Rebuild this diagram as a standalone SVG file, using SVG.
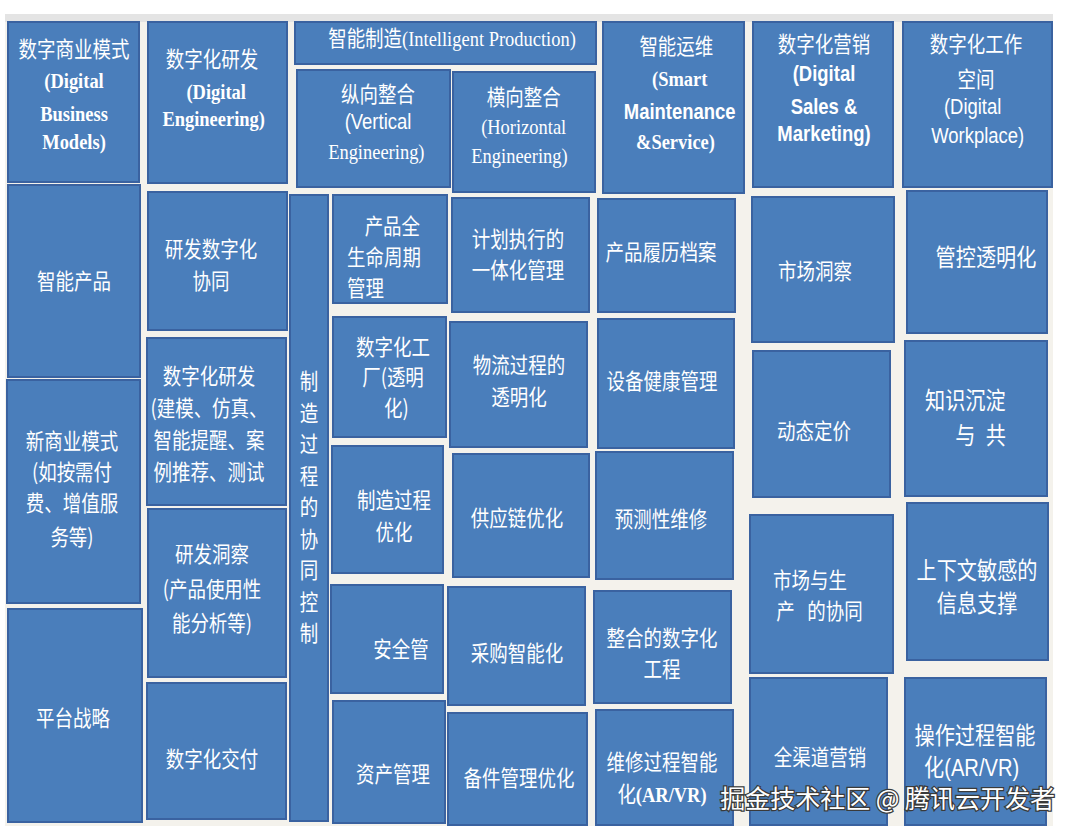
<svg xmlns="http://www.w3.org/2000/svg" width="1080" height="836" viewBox="0 0 1080 836">
<style>
.b{fill:#4a7ebb;stroke:#3a62a0;stroke-width:2}
.t{font-family:"Noto Sans CJK SC","Liberation Sans",sans-serif;font-size:22px;fill:#fff;text-anchor:middle}
.L{font-size:24px}
.st{text-anchor:start}
.s{font-family:"Liberation Serif","Noto Sans CJK SC",serif}
.sb{font-family:"Liberation Serif","Noto Sans CJK SC",serif;font-weight:bold}
.a{font-family:"Liberation Sans","Noto Sans CJK SC",sans-serif}
.ab{font-family:"Liberation Sans","Noto Sans CJK SC",sans-serif;font-weight:bold}
.wm{font-family:"Noto Sans CJK SC","Liberation Sans",sans-serif;font-size:25px;fill:#fff;stroke:#3a3a3a;stroke-width:2.5;paint-order:stroke;text-anchor:end}
</style>
<rect x="0" y="0" width="1080" height="836" fill="#ffffff"/>
<rect x="5" y="14" width="1048" height="812" fill="#f4f2ec"/>
<rect x="5" y="14" width="1048" height="8" fill="#e4e4e4"/>

<g id="b1"><rect class="b" x="8" y="22" width="131" height="160"/>
<text class="t" transform="translate(74 0) scale(.84 1)"><tspan x="0" y="57">数字商业模式</tspan><tspan class="sb" x="0" y="88">(Digital</tspan><tspan class="sb" x="0" y="121">Business</tspan><tspan class="sb" x="0" y="149">Models)</tspan></text></g>

<g id="b2"><rect class="b" x="148" y="22" width="139" height="161"/>
<text class="t" transform="translate(212 0) scale(.84 1)"><tspan x="0" y="67">数字化研发</tspan><tspan class="sb" x="5" y="99">(Digital</tspan><tspan class="sb" x="2" y="126">Engineering)</tspan></text></g>

<g id="b3"><rect class="b" x="295" y="22" width="301" height="42"/>
<text class="t s" transform="translate(452 0) scale(.84 1)"><tspan x="0" y="46">智能制造(Intelligent Production)</tspan></text></g>

<g id="b4"><rect class="b" x="297" y="70" width="153" height="117"/>
<text class="t" transform="translate(378 0) scale(.84 1)"><tspan x="0" y="102">纵向整合</tspan><tspan class="a" x="0" y="129">(Vertical</tspan><tspan class="s" x="-2" y="159">Engineering)</tspan></text></g>

<g id="b5"><rect class="b" x="453" y="72" width="142" height="120"/>
<text class="t s" transform="translate(522 0) scale(.84 1)"><tspan x="2" y="105">横向整合</tspan><tspan x="2" y="134">(Horizontal</tspan><tspan x="-3" y="163">Engineering)</tspan></text></g>

<g id="b6"><rect class="b" x="603" y="22" width="141" height="171"/>
<text class="t" transform="translate(678 0) scale(.84 1)"><tspan x="-2" y="54">智能运维</tspan><tspan class="sb" x="2" y="86">(Smart</tspan><tspan class="ab" x="2" y="119">Maintenance</tspan><tspan class="sb" x="-3" y="149">&amp;Service)</tspan></text></g>

<g id="b7"><rect class="b" x="753" y="22" width="140" height="165"/>
<text class="t" transform="translate(824 0) scale(.84 1)"><tspan x="0" y="52">数字化营销</tspan><tspan class="ab" x="0" y="81">(Digital</tspan><tspan class="ab" x="0" y="114">Sales &amp;</tspan><tspan class="ab" x="0" y="141">Marketing)</tspan></text></g>

<g id="b8"><rect class="b" x="903" y="22" width="149" height="165"/>
<text class="t" transform="translate(976 0) scale(.84 1)"><tspan x="0" y="52">数字化工作</tspan><tspan x="0" y="87">空间</tspan><tspan class="a" x="-4" y="114">(Digital</tspan><tspan class="a" x="2" y="143">Workplace)</tspan></text></g>

<g id="b9"><rect class="b" x="8" y="185" width="132" height="192"/>
<text class="t" transform="translate(74 0) scale(.84 1)"><tspan x="0" y="289">智能产品</tspan></text></g>

<g id="b10"><rect class="b" x="148" y="192" width="139" height="138"/>
<text class="t" transform="translate(211 0) scale(.84 1)"><tspan x="0" y="257">研发数字化</tspan><tspan x="0" y="289">协同</tspan></text></g>

<g id="b11"><rect class="b" x="7" y="380" width="133" height="223"/>
<text class="t" transform="translate(72 0) scale(.84 1)"><tspan x="0" y="449">新商业模式</tspan><tspan x="0" y="480">(如按需付</tspan><tspan x="0" y="511">费、增值服</tspan><tspan x="0" y="545">务等)</tspan></text></g>

<g id="b12"><rect class="b" x="8" y="609" width="134" height="213"/>
<text class="t" transform="translate(73 0) scale(.84 1)"><tspan x="0" y="726">平台战略</tspan></text></g>

<g id="b13"><rect class="b" x="147" y="338" width="139" height="167"/>
<text class="t" transform="translate(209 0) scale(.84 1)"><tspan x="0" y="384">数字化研发</tspan><tspan x="0" y="416">(建模、仿真、</tspan><tspan x="0" y="448">智能提醒、案</tspan><tspan x="0" y="480">例推荐、测试</tspan></text></g>

<g id="b14"><rect class="b" x="148" y="509" width="138" height="168"/>
<text class="t" transform="translate(212 0) scale(.84 1)"><tspan x="0" y="562">研发洞察</tspan><tspan x="0" y="597">(产品使用性</tspan><tspan x="0" y="631">能分析等)</tspan></text></g>

<g id="b15"><rect class="b" x="147" y="683" width="139" height="136"/>
<text class="t" transform="translate(212 0) scale(.84 1)"><tspan x="0" y="767">数字化交付</tspan></text></g>

<g id="b16"><rect class="b" x="290" y="195" width="38" height="626"/>
<text class="t" transform="translate(309 0) scale(.84 1)"><tspan x="0" y="389">制</tspan><tspan x="0" y="421">造</tspan><tspan x="0" y="452">过</tspan><tspan x="0" y="484">程</tspan><tspan x="0" y="515">的</tspan><tspan x="0" y="547">协</tspan><tspan x="0" y="578">同</tspan><tspan x="0" y="610">控</tspan><tspan x="0" y="641">制</tspan></text></g>

<g id="b17"><rect class="b" x="333" y="195" width="114" height="108"/>
<text class="t st" transform="translate(347 0) scale(.84 1)"><tspan x="21" y="234">产品全</tspan><tspan x="0" y="265">生命周期</tspan><tspan x="0" y="296">管理</tspan></text></g>

<g id="b18"><rect class="b" x="452" y="198" width="137" height="114"/>
<text class="t" transform="translate(518 0) scale(.84 1)"><tspan x="0" y="247">计划执行的</tspan><tspan x="0" y="278">一体化管理</tspan></text></g>

<g id="b19"><rect class="b" x="598" y="199" width="137" height="113"/>
<text class="t" transform="translate(661 0) scale(.84 1)"><tspan x="0" y="260">产品履历档案</tspan></text></g>

<g id="b20"><rect class="b" x="752" y="197" width="142" height="145"/>
<text class="t" transform="translate(815 0) scale(.84 1)"><tspan x="0" y="279">市场洞察</tspan></text></g>

<g id="b21"><rect class="b" x="907" y="191" width="140" height="142"/>
<text class="t L" transform="translate(986 0) scale(.84 1)"><tspan x="0" y="266">管控透明化</tspan></text></g>

<g id="b22"><rect class="b" x="333" y="317" width="113" height="120"/>
<text class="t" transform="translate(393 0) scale(.84 1)"><tspan x="0" y="355">数字化工</tspan><tspan x="0" y="385">厂(透明</tspan><tspan x="4" y="416">化)</tspan></text></g>

<g id="b23"><rect class="b" x="450" y="322" width="137" height="125"/>
<text class="t" transform="translate(519 0) scale(.84 1)"><tspan x="0" y="373">物流过程的</tspan><tspan x="0" y="405">透明化</tspan></text></g>

<g id="b24"><rect class="b" x="598" y="319" width="136" height="129"/>
<text class="t" transform="translate(662 0) scale(.84 1)"><tspan x="0" y="389">设备健康管理</tspan></text></g>

<g id="b25"><rect class="b" x="753" y="351" width="137" height="146"/>
<text class="t" transform="translate(814 0) scale(.84 1)"><tspan x="0" y="439">动态定价</tspan></text></g>

<g id="b26"><rect class="b" x="905" y="341" width="142" height="155"/>
<text class="t L st" transform="translate(925 0) scale(.84 1)"><tspan x="0" y="409">知识沉淀</tspan><tspan x="36" y="444" style="word-spacing:7px">与 共</tspan></text></g>

<g id="b27"><rect class="b" x="332" y="446" width="111" height="127"/>
<text class="t" transform="translate(394 0) scale(.84 1)"><tspan x="0" y="508">制造过程</tspan><tspan x="0" y="540">优化</tspan></text></g>

<g id="b28"><rect class="b" x="453" y="454" width="136" height="123"/>
<text class="t" transform="translate(517 0) scale(.84 1)"><tspan x="0" y="526">供应链优化</tspan></text></g>

<g id="b29"><rect class="b" x="596" y="452" width="137" height="127"/>
<text class="t" transform="translate(661 0) scale(.84 1)"><tspan x="0" y="527">预测性维修</tspan></text></g>

<g id="b30"><rect class="b" x="750" y="515" width="143" height="158"/>
<text class="t st" transform="translate(773 0) scale(.84 1)"><tspan x="0" y="588">市场与生</tspan><tspan x="4" y="619" style="word-spacing:10px">产 的协同</tspan></text></g>

<g id="b31"><rect class="b" x="907" y="503" width="141" height="157"/>
<text class="t L" transform="translate(977 0) scale(.84 1)"><tspan x="0" y="579">上下文敏感的</tspan><tspan x="0" y="612">信息支撑</tspan></text></g>

<g id="b32"><rect class="b" x="331" y="585" width="112" height="108"/>
<text class="t" transform="translate(401 0) scale(.84 1)"><tspan x="0" y="657">安全管</tspan></text></g>

<g id="b33"><rect class="b" x="448" y="587" width="137" height="118"/>
<text class="t" transform="translate(517 0) scale(.84 1)"><tspan x="0" y="661">采购智能化</tspan></text></g>

<g id="b34"><rect class="b" x="594" y="591" width="137" height="112"/>
<text class="t" transform="translate(662 0) scale(.84 1)"><tspan x="0" y="646">整合的数字化</tspan><tspan x="0" y="677">工程</tspan></text></g>

<g id="b35"><rect class="b" x="333" y="701" width="112" height="122"/>
<text class="t" transform="translate(393 0) scale(.84 1)"><tspan x="0" y="782">资产管理</tspan></text></g>

<g id="b36"><rect class="b" x="448" y="713" width="139" height="112"/>
<text class="t" transform="translate(519 0) scale(.84 1)"><tspan x="0" y="786">备件管理优化</tspan></text></g>

<g id="b37"><rect class="b" x="596" y="710" width="137" height="115"/>
<text class="t" transform="translate(662 0) scale(.84 1)"><tspan x="0" y="770">维修过程智能</tspan><tspan x="0" y="802">化<tspan class="sb">(AR/VR)</tspan></tspan></text></g>

<g id="b38"><rect class="b" x="750" y="678" width="137" height="147"/>
<text class="t" transform="translate(820 0) scale(.84 1)"><tspan x="0" y="765">全渠道营销</tspan></text></g>

<g id="b39"><rect class="b" x="905" y="678" width="141" height="147"/>
<text class="t L" transform="translate(975 0) scale(.84 1)"><tspan x="0" y="744">操作过程智能</tspan><tspan class="a" x="-4" y="776">化(AR/VR)</tspan></text></g>

<g id="connectors"></g>

<text class="wm" x="1055" y="808">掘金技术社区 @ 腾讯云开发者</text>
</svg>
